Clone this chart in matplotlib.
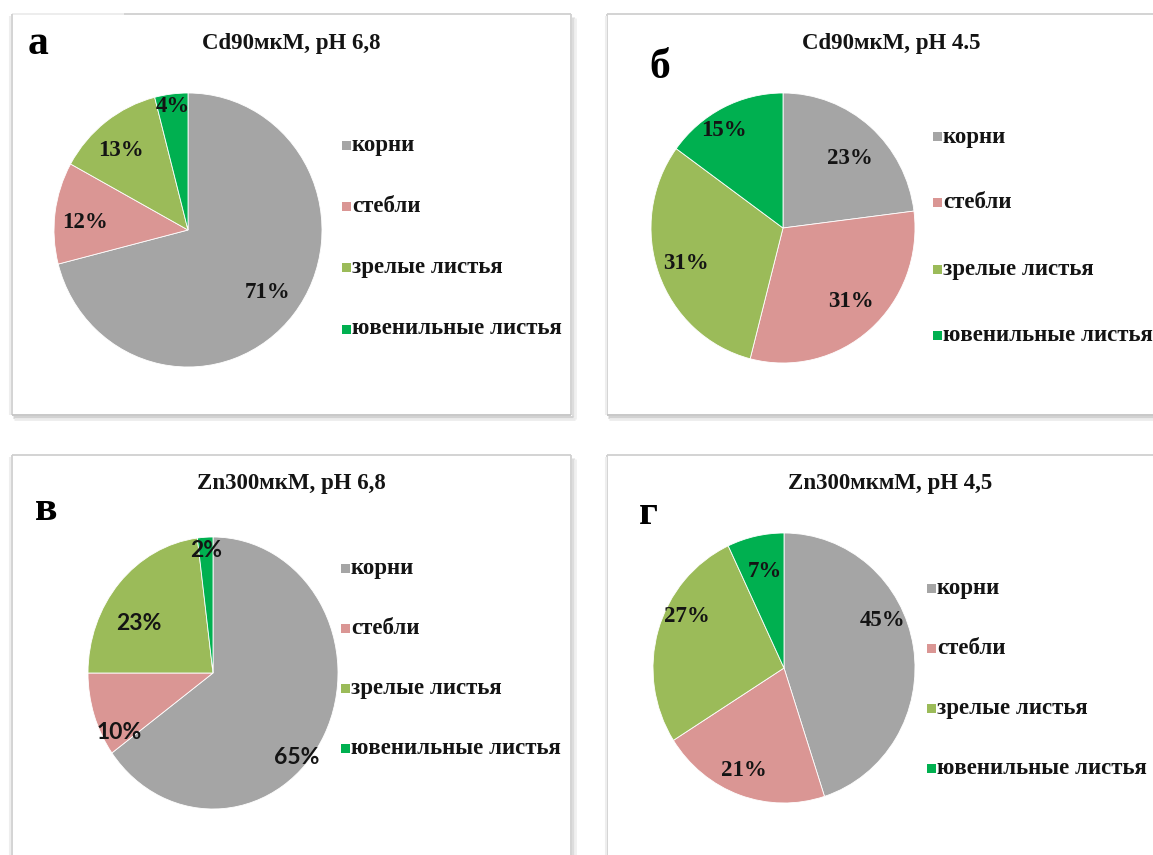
import matplotlib
matplotlib.use("Agg")
import matplotlib.pyplot as plt
from matplotlib.patches import Rectangle
from matplotlib.lines import Line2D
import numpy as np

# Categories and values (percent of total metal content)
categories = ["корни", "стебли", "зрелые листья", "ювенильные листья"]
cd_ph68 = [71, 12, 13, 4]
cd_ph45 = [23, 31, 31, 15]
zn_ph68 = [65, 10, 23, 2]
zn_ph45 = [45, 21, 27, 7]

titles = ["Cd90мкМ, pH 6,8", "Cd90мкМ, pH 4.5", "Zn300мкМ, pH 6,8", "Zn300мкмМ, pH 4,5"]
letters = ["а", "б", "в", "г"]

colors = ["#A5A5A5", "#DA9694", "#9BBB59", "#00B050"]

W, H = 1153, 855
fig = plt.figure(figsize=(W / 100, H / 100), dpi=100)
fig.patch.set_facecolor("white")

SERIF = ["Liberation Serif", "DejaVu Serif"]
SANS = ["Lato", "DejaVu Sans"]
INK = "#141414"


def fx(x):
    return x / W


def fy(y):
    return 1 - y / H


def fig_line(xs, ys, color="#d0d0d0", lw=1.3, z=0):
    fig.add_artist(Line2D([fx(x) for x in xs], [fy(y) for y in ys],
                          transform=fig.transFigure, color=color, lw=lw, zorder=z,
                          solid_capstyle="butt"))


def frame(x0, y0, x1, y1, top_start=None, bottom=True, right=True):
    if top_start is not None:
        fig_line([x0, top_start], [y0, y0], color="#ececec")
        fig_line([top_start, x1], [y0, y0])
    else:
        fig_line([x0, x1], [y0, y0])
    fig_line([x0, x0], [y0, y1])
    fig_line([x0 - 1.5, x0 - 1.5], [y0 + 2, y1], color="#eeeeee", lw=1.5)
    if right:
        fig_line([x1, x1], [y0, y1])
        fig_line([x1 + 2, x1 + 2], [y0 + 3, y1 + 2], color="#dddddd", lw=2.2)
        fig_line([x1 + 4, x1 + 4], [y0 + 4, y1 + 4], color="#f0f0f0", lw=2)
    if bottom:
        fig_line([x0, x1], [y1, y1], color="#c4c4c4", lw=1.3)
        fig_line([x0 + 1, x1 + 2], [y1 + 2, y1 + 2], color="#d2d2d2", lw=2.2)
        fig_line([x0 + 2, x1 + 4], [y1 + 4, y1 + 4], color="#ececec", lw=2)


def panel(values, title, letter, center, radii, title_pos, letter_pos,
          legend_x, legend_y0, legend_dy, label_dist, label_shift, label_font):
    cx, cy = center
    rx, ry = radii
    ax = fig.add_axes([fx(cx - rx), fy(cy + ry), 2 * rx / W, 2 * ry / H])
    wedges, _ = ax.pie(values, colors=colors, startangle=90, counterclock=False,
                       radius=1, wedgeprops=dict(linewidth=0.6, edgecolor="white"))
    ax.set_xlim(-1, 1)
    ax.set_ylim(-1, 1)
    ax.set_aspect("auto")
    ax.axis("off")
    # percentage labels placed along each wedge's bisector (with a small angular nudge)
    for w, v, d, s in zip(wedges, values, label_dist, label_shift):
        mid = np.deg2rad((w.theta1 + w.theta2) / 2 + s)
        ax.text(d * np.cos(mid), d * np.sin(mid), f"{v}%", ha="center", va="center",
                fontsize=16.5, fontweight="bold", family=label_font, color=INK)

    fig.text(fx(title_pos[0]), fy(title_pos[1]), title, ha="center", va="center",
             fontsize=16.5, fontweight="bold", family=SERIF, color=INK)
    fig.text(fx(letter_pos[0]), fy(letter_pos[1]), letter, ha="center", va="center",
             fontsize=30, fontweight="bold", family=SERIF, color="black")

    sq = 9
    for i, (cat, col) in enumerate(zip(categories, colors)):
        y = legend_y0 + i * legend_dy
        fig.add_artist(Rectangle((fx(legend_x), fy(y + sq / 2)), sq / W, sq / H,
                                 transform=fig.transFigure, facecolor=col, edgecolor="none"))
        fig.text(fx(legend_x + sq + 1), fy(y), cat, ha="left", va="center",
                 fontsize=16.5, fontweight="bold", family=SERIF, color=INK)


# Panel frames
frame(12, 14, 571, 415, top_start=124)
frame(607, 14, 1160, 415, right=False)
frame(12, 455, 571, 860, bottom=False)
frame(607, 455, 1160, 860, bottom=False, right=False)

panel(cd_ph68, titles[0], letters[0], (188, 230), (134, 137), (291, 43), (38, 44),
      342, 146, 61, [0.75, 0.77, 0.77, 0.91], [0, 3, 3, 0], SERIF)
panel(cd_ph45, titles[1], letters[1], (783, 228), (132, 135), (891, 43), (660, 68),
      933, 137, 66, [0.72, 0.75, 0.78, 0.85], [-3, 2, 0, 5], SERIF)
panel(zn_ph68, titles[2], letters[2], (213, 673), (125, 136), (291, 483), (46, 510),
      341, 568, 60, [0.91, 0.87, 0.70, 0.9], [-16, 12, 10, 0], SANS)
panel(zn_ph45, titles[3], letters[3], (784, 668), (131, 135), (890, 484), (648, 514),
      927, 588, 60, [0.83, 0.82, 0.83, 0.73], [16, -2, -11, -1], SERIF)

fig.savefig("out.png", dpi=100, facecolor="white")
